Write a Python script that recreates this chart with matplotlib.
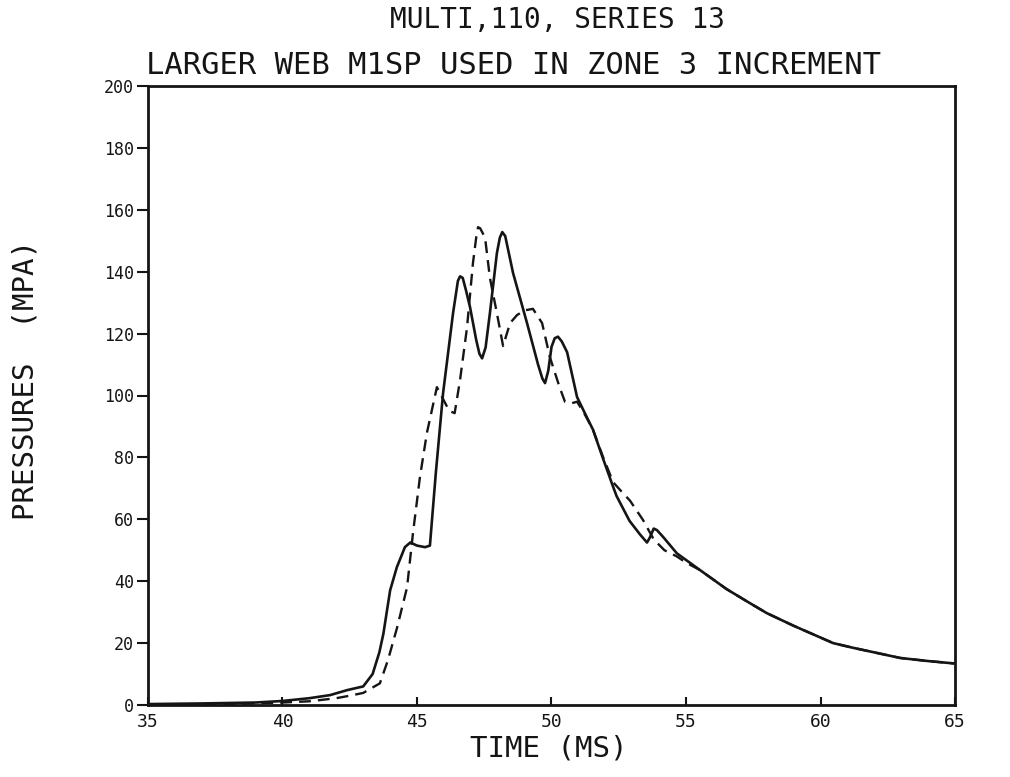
import matplotlib
matplotlib.use("Agg")
import matplotlib.pyplot as plt

# ---- data ----
t_solid = [35, 37, 39, 40, 41, 41.77, 42.4, 43.0, 43.35, 43.6, 43.75, 44.0, 44.25, 44.55, 44.75,
           45.0, 45.3, 45.48, 45.7, 45.97, 46.34, 46.52, 46.6, 46.7, 46.82, 46.97, 47.2, 47.32,
           47.42, 47.55, 47.71, 47.97, 48.08, 48.17, 48.28, 48.57, 49.09, 49.5, 49.66, 49.76,
           49.88, 50.0, 50.12, 50.24, 50.38, 50.58, 50.95, 51.2, 51.54, 51.9, 52.29, 52.42,
           52.9, 53.3, 53.55, 53.65, 53.8, 53.92, 54.15, 54.66, 55.52, 56.5, 57.3, 58.0, 59.0,
           60.47, 61.2, 62.0, 62.96, 64.0, 65.0]
p_solid = [0.3, 0.5, 0.8, 1.3, 2.2, 3.2, 4.8, 6.0, 10.0, 17.0, 23.0, 37.0, 44.5, 51.0, 52.5,
           51.5, 51.0, 51.5, 75.0, 100.8, 126.6, 137.0, 138.5, 138.0, 134.0, 128.6, 118.0, 113.5,
           112.0, 115.5, 126.6, 146.0, 151.0, 152.8, 151.5, 139.6, 123.4, 110.0, 105.5, 104.0,
           108.0, 115.7, 118.5, 119.0, 117.5, 114.0, 99.5, 95.0, 89.0, 80.0, 70.5, 67.5,
           59.5, 55.0, 52.5, 54.0, 57.0, 56.5, 54.3, 49.0, 43.6, 37.5, 33.3, 29.7, 25.6,
           20.0, 18.5, 17.0, 15.2, 14.2, 13.4]

t_dash = [35, 38, 40, 41, 42, 42.5, 43.0, 43.62, 43.92, 44.26, 44.63, 44.85, 45.11, 45.37,
          45.74, 46.2, 46.4, 46.6, 46.86, 47.08, 47.2, 47.27, 47.35, 47.53, 47.71, 47.97, 48.2,
          48.46, 48.72, 49.0, 49.31, 49.65, 49.94, 50.3, 50.5, 50.75, 50.95, 51.2, 51.54, 51.9,
          52.29, 52.6, 52.92, 53.4, 53.8, 54.2, 54.66, 55.0, 55.52, 56.5, 57.3, 58.0, 59.0,
          60.47, 61.2, 62.0, 62.96, 64.0, 65.0]
p_dash = [0.2, 0.3, 0.8, 1.2, 2.2, 3.0, 3.9, 7.0, 14.5, 25.0, 38.0, 55.5, 73.7, 88.0,
          102.7, 95.0, 94.3, 105.0, 122.0, 142.8, 151.0, 154.4, 154.0, 151.0, 138.0, 126.6, 116.0,
          123.4, 126.0, 127.5, 128.0, 123.4, 112.4, 102.7, 98.0, 97.5, 98.0, 94.5, 89.0, 80.5,
          72.0, 69.0, 66.0, 59.8, 53.5, 50.0, 48.0, 46.0, 43.6, 37.5, 33.3, 29.7, 25.6,
          20.0, 18.5, 17.0, 15.2, 14.2, 13.4]

x_ticks = [35, 40, 45, 50, 55, 60, 65]
y_ticks = [0, 20, 40, 60, 80, 100, 120, 140, 160, 180, 200]

title1 = "MULTI,110, SERIES 13"
title2 = "LARGER WEB M1SP USED IN ZONE 3 INCREMENT"
xlabel = "TIME (MS)"
ylabel = "PRESSURES  (MPA)"

# ---- figure ----
plt.rcParams['font.family'] = ['DejaVu Sans Mono', 'DejaVu Sans']
ink = '#151515'
fig = plt.figure(figsize=(10.10, 7.77), dpi=100)
ax = fig.add_axes([148/1010, 1 - 705/777, (955-148)/1010, (705-86)/777])

ax.plot(t_solid, p_solid, color=ink, lw=1.9, solid_joinstyle='round')
ax.plot(t_dash, p_dash, color=ink, lw=1.7, linestyle=(0, (5, 3)))

ax.set_xlim(35, 65)
ax.set_ylim(0, 200)
ax.set_xticks(x_ticks)
ax.set_yticks(y_ticks)
ax.set_xticklabels([str(v) for v in x_ticks], fontsize=13, color=ink)
ax.set_yticklabels([str(v) for v in y_ticks], fontsize=12, color=ink)
ax.tick_params(axis='y', direction='out', length=8, width=1.5, colors=ink, pad=2)
ax.tick_params(axis='x', direction='in', length=6, width=1.5, colors=ink, pad=6)
for s in ax.spines.values():
    s.set_linewidth(2.0)
    s.set_color(ink)

fig.text(557/1010, 1 - 20/777, title1, ha='center', va='center', fontsize=20, color=ink)
fig.text(513/1010, 1 - 66/777, title2, ha='center', va='center', fontsize=22, color=ink)
fig.text(549/1010, 1 - 749/777, xlabel, ha='center', va='center', fontsize=21, color=ink)
fig.text(26/1010, 1 - 380/777, ylabel, ha='center', va='center', rotation=90, fontsize=21, color=ink)

fig.savefig("out.png", dpi=100, facecolor='white')
